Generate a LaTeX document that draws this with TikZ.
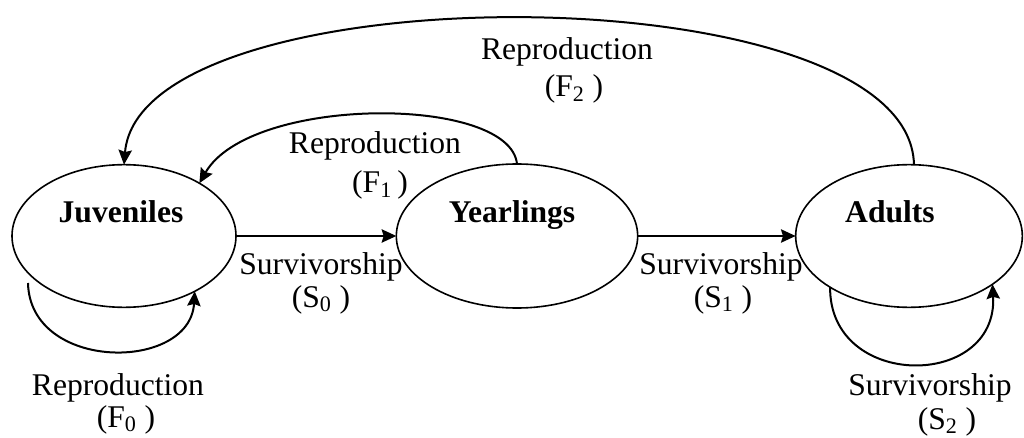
\documentclass[tikz,border=0pt]{standalone}
\usepackage{fontspec}
\setmainfont{Liberation Serif}
\usetikzlibrary{shapes.geometric,arrows.meta}
\begin{document}
\begin{tikzpicture}[x=0.75pt,y=-0.75pt,
  stage/.style={ellipse,draw,line width=1.2pt,inner sep=0pt,outer sep=0pt},
  stagetext/.style={font=\fontsize{23.7}{28}\selectfont\bfseries,anchor=base,inner sep=0pt},
  lbl/.style={font=\fontsize{23.7}{28}\selectfont,anchor=base,inner sep=0pt},
  flow/.style={line width=1.5pt,-{Stealth[length=11pt,width=10pt,inset=1.5pt]}}]
\useasboundingbox (0,0) rectangle (1024,438);
% stages
\node[stage,minimum width=168pt,minimum height=107pt] (j) at (124,236) {};
\node[stage,minimum width=181pt,minimum height=108pt] (y) at (517,236) {};
\node[stage,minimum width=170pt,minimum height=107pt] (a) at (909,236) {};
\node[stagetext] (jt) at (121,223) {Juveniles};
\node[stagetext] (yt) at (512,223) {Yearlings};
\node[stagetext] (at) at (890,223) {Adults};
% connectors
\coordinate (f0s) at (28,283);
\draw[flow] (j.east) -- (y.west);
\draw[flow] (y.east) -- (a.west);
\draw[flow] (y.north) .. controls (510,95) and (250,95) .. (j.35);
\draw[flow] (a.86) .. controls (910,-30) and (140,-30) .. (j.north);
\draw[flow] (f0s) .. controls (30,372) and (190,372) .. (j.-38);
\draw[flow] (a.213) .. controls (829,390) and (998,390) .. (a.-30);
% labels
\node[lbl] (l2a) at (567,60) {Reproduction};
\node[lbl] (l2b) at (574,97) {(F\textsubscript{2} )};
\node[lbl] (l1a) at (375,154) {Reproduction};
\node[lbl] (l1b) at (380,193) {(F\textsubscript{1}\,)};
\node[lbl] (s0a) at (321,275) {Survivorship};
\node[lbl] (s0b) at (321,307) {(S\textsubscript{0} )};
\node[lbl] (s1a) at (721,275) {Survivorship};
\node[lbl] (s1b) at (723,307) {(S\textsubscript{1} )};
\node[lbl] (l0a) at (118,395) {Reproduction};
\node[lbl] (l0b) at (126,427) {(F\textsubscript{0} )};
\node[lbl] (s2a) at (930,395) {Survivorship};
\node[lbl] (s2b) at (947,429) {(S\textsubscript{2} )};
\end{tikzpicture}
\end{document}
